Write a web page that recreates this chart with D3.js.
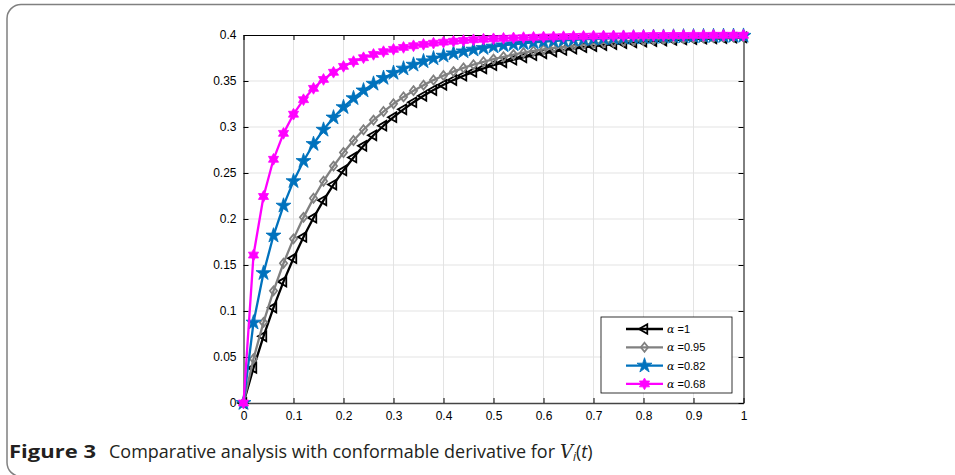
<!DOCTYPE html>
<html><head><meta charset="utf-8">
<script src="https://cdn.jsdelivr.net/npm/d3@7"></script>
<style>body{margin:0;background:#fff}svg{display:block}</style>
</head><body>
<svg id="c" width="955" height="475"></svg>
<script>
const tValues = [0,0.02,0.04,0.06,0.08,0.10,0.12,0.14,0.16,0.18,0.20,0.22,0.24,0.26,0.28,0.30,0.32,0.34,0.36,0.38,0.40,0.42,0.44,0.46,0.48,0.50,0.52,0.54,0.56,0.58,0.60,0.62,0.64,0.66,0.68,0.70,0.72,0.74,0.76,0.78,0.80,0.82,0.84,0.86,0.88,0.90,0.92,0.94,0.96,0.98,1.00];
const alpha100 = [0,0.0381,0.0725,0.1037,0.1319,0.1574,0.1805,0.2014,0.2203,0.2374,0.2528,0.2669,0.2795,0.2910,0.3014,0.3107,0.3192,0.3269,0.3339,0.3402,0.3459,0.3510,0.3557,0.3599,0.3637,0.3672,0.3703,0.3731,0.3757,0.3780,0.3801,0.3820,0.3837,0.3852,0.3867,0.3879,0.3891,0.3901,0.3911,0.3919,0.3927,0.3934,0.3940,0.3946,0.3951,0.3956,0.3960,0.3964,0.3967,0.3970,0.3973];
const alpha095 = [0,0.0481,0.0876,0.1219,0.1519,0.1784,0.2018,0.2226,0.2411,0.2575,0.2722,0.2853,0.2970,0.3075,0.3168,0.3252,0.3327,0.3395,0.3455,0.3510,0.3559,0.3602,0.3642,0.3677,0.3709,0.3738,0.3763,0.3787,0.3808,0.3826,0.3843,0.3859,0.3872,0.3885,0.3896,0.3906,0.3915,0.3923,0.3931,0.3937,0.3943,0.3949,0.3954,0.3958,0.3962,0.3966,0.3969,0.3972,0.3975,0.3977,0.3979];
const alpha082 = [0,0.0874,0.1412,0.1820,0.2145,0.2411,0.2630,0.2815,0.2970,0.3103,0.3216,0.3313,0.3397,0.3470,0.3533,0.3588,0.3635,0.3677,0.3714,0.3746,0.3775,0.3800,0.3822,0.3841,0.3858,0.3874,0.3887,0.3899,0.3910,0.3919,0.3928,0.3935,0.3942,0.3948,0.3953,0.3958,0.3962,0.3966,0.3969,0.3972,0.3975,0.3978,0.3980,0.3982,0.3984,0.3985,0.3987,0.3988,0.3989,0.3990,0.3991];
const alpha068 = [0,0.1608,0.2245,0.2649,0.2931,0.3139,0.3297,0.3420,0.3517,0.3595,0.3659,0.3711,0.3753,0.3789,0.3819,0.3844,0.3865,0.3883,0.3898,0.3911,0.3922,0.3932,0.3940,0.3948,0.3954,0.3959,0.3964,0.3968,0.3972,0.3975,0.3978,0.3980,0.3982,0.3984,0.3986,0.3988,0.3989,0.3990,0.3991,0.3992,0.3993,0.3994,0.3994,0.3995,0.3995,0.3996,0.3996,0.3997,0.3997,0.3997,0.3997];
const seriesLabels = ["1","0.95","0.82","0.68"];
const xTicks = [0,0.1,0.2,0.3,0.4,0.5,0.6,0.7,0.8,0.9,1];
const yTicks = [0,0.05,0.1,0.15,0.2,0.25,0.3,0.35,0.4];
const captionBold = "Figure 3";
const captionText = "Comparative analysis with conformable derivative for";

const svg = d3.select("#c");
const L = 243.5, R = 743.5, T = 35, B = 403;
const x = d3.scaleLinear().domain([0,1]).range([L,R]);
const y = d3.scaleLinear().domain([0,0.4]).range([B,T]);

// frame
svg.append("rect").attr("x",7).attr("y",4.5).attr("width",1000).attr("height",472)
  .attr("rx",14).attr("fill","none").attr("stroke","#808080").attr("stroke-width",1.5);

// grid
const g = svg.append("g");
g.selectAll("line.gx").data(xTicks.slice(1,-1)).join("line")
  .attr("x1",d=>x(d)).attr("x2",d=>x(d)).attr("y1",T).attr("y2",B)
  .attr("stroke","#e3e3e3").attr("stroke-width",1);
g.selectAll("line.gy").data(yTicks.slice(1,-1)).join("line")
  .attr("y1",d=>y(d)).attr("y2",d=>y(d)).attr("x1",L).attr("x2",R)
  .attr("stroke","#e3e3e3").attr("stroke-width",1);

// axes
const fmt = d => String(d);
function styleAxis(sel){
  sel.selectAll("path.domain").attr("stroke","#000").attr("stroke-width",1);
  sel.selectAll(".tick line").attr("stroke","#000");
  sel.selectAll("text").attr("font-family","Liberation Sans, Arial, sans-serif").attr("font-size",12).attr("fill","#000");
}
svg.append("g").attr("transform",`translate(0,${B})`)
  .call(d3.axisBottom(x).tickValues(xTicks).tickFormat(fmt).tickSizeInner(-5).tickSizeOuter(0).tickPadding(8)).call(styleAxis)
  .selectAll("path.domain").attr("stroke","#444").attr("stroke-width",1.6);
svg.append("g").attr("transform",`translate(${L},0)`)
  .call(d3.axisLeft(y).tickValues(yTicks).tickFormat(fmt).tickSizeInner(-5).tickSizeOuter(0).tickPadding(7)).call(styleAxis);
svg.append("g").attr("transform",`translate(0,${T})`)
  .call(d3.axisTop(x).tickValues(xTicks).tickFormat("").tickSizeInner(-5).tickSizeOuter(0)).call(styleAxis);
svg.append("g").attr("transform",`translate(${R},0)`)
  .call(d3.axisRight(y).tickValues(yTicks).tickFormat("").tickSizeInner(-5).tickSizeOuter(0)).call(styleAxis);

// marker shapes
const hexagram = { draw(ctx, size){ const r = Math.sqrt(size)/1.6, ri = r/Math.sqrt(3);
  for(let i=0;i<12;i++){ const a = -Math.PI/2 + i*Math.PI/6; const rr = i%2?ri:r;
    const px = rr*Math.cos(a), py = rr*Math.sin(a); if(i===0) ctx.moveTo(px,py); else ctx.lineTo(px,py);} ctx.closePath(); } };
const diamond = { draw(ctx,size){ const r=Math.sqrt(size)/1.4; ctx.moveTo(0,-r); ctx.lineTo(r*0.8,0); ctx.lineTo(0,r); ctx.lineTo(-r*0.8,0); ctx.closePath(); } };

const series = [
  {vals:alpha100, color:"#000000", sym:d3.symbolTriangle, size:40, rot:-90, fill:"none", sw:1.8},
  {vals:alpha095, color:"#808080", sym:diamond, size:40, rot:0, fill:"none", sw:1.8},
  {vals:alpha082, color:"#0072BD", sym:d3.symbolStar, size:70, rot:0, fill:"#0072BD", sw:0.8},
  {vals:alpha068, color:"#FF00FF", sym:hexagram, size:88, rot:0, fill:"#FF00FF", sw:0.8}
];
const line = d3.line().x(d=>x(d[0])).y(d=>y(d[1]));
series.forEach(s=>{
  const pts = tValues.map((t,i)=>[t,s.vals[i]]);
  const gg = svg.append("g");
  gg.append("path").attr("d",line(pts)).attr("fill","none").attr("stroke",s.color).attr("stroke-width",2.3).attr("stroke-linejoin","round");
  gg.selectAll("path.m").data(pts).join("path")
    .attr("d",d3.symbol(s.sym,s.size)())
    .attr("transform",d=>`translate(${x(d[0])},${y(d[1])}) rotate(${s.rot})`)
    .attr("fill",s.fill).attr("stroke",s.color).attr("stroke-width",s.sw);
});

// legend
const lg = svg.append("g");
lg.append("rect").attr("x",601).attr("y",317).attr("width",131).attr("height",76)
  .attr("fill","#fff").attr("stroke","#000").attr("stroke-width",0.8);
series.forEach((s,i)=>{
  const yy = 329 + i*18.3;
  lg.append("line").attr("x1",626).attr("x2",663).attr("y1",yy).attr("y2",yy)
    .attr("stroke",s.color).attr("stroke-width",2.3);
  lg.append("path").attr("d",d3.symbol(s.sym,s.size)())
    .attr("transform",`translate(644.5,${yy}) rotate(${s.rot})`)
    .attr("fill",s.fill).attr("stroke",s.color).attr("stroke-width",s.sw);
  const tx = lg.append("text").attr("x",667).attr("y",yy).attr("dy","0.36em")
    .attr("font-family","Liberation Sans, Arial, sans-serif").attr("font-size",11).attr("fill","#000");
  tx.append("tspan").attr("font-family","DejaVu Serif, serif").attr("font-style","italic").text("α");
  tx.append("tspan").text(" =" + seriesLabels[i]);
});

// caption
const capFont = "Open Sans, Noto Sans, sans-serif";
svg.append("text").attr("x",9).attr("y",458).attr("font-family",capFont).attr("font-size",18)
  .attr("font-weight","bold").attr("fill","#231f20")
  .attr("textLength",87).attr("lengthAdjust","spacingAndGlyphs").text(captionBold);
svg.append("text").attr("x",109).attr("y",458).attr("font-family",capFont).attr("font-size",18)
  .attr("fill","#231f20").attr("textLength",446).attr("lengthAdjust","spacingAndGlyphs").text(captionText);
const cv = svg.append("text").attr("x",560).attr("y",458).attr("font-family",capFont).attr("font-size",18).attr("fill","#231f20");
cv.append("tspan").attr("font-family","DejaVu Serif, serif").attr("font-style","italic").text("V");
cv.append("tspan").attr("font-style","italic").attr("font-size",12).attr("dy",3).text("i");
cv.append("tspan").attr("dy",-3).text("(");
cv.append("tspan").attr("font-style","italic").text("t");
cv.append("tspan").text(")");
</script>
</body></html>
